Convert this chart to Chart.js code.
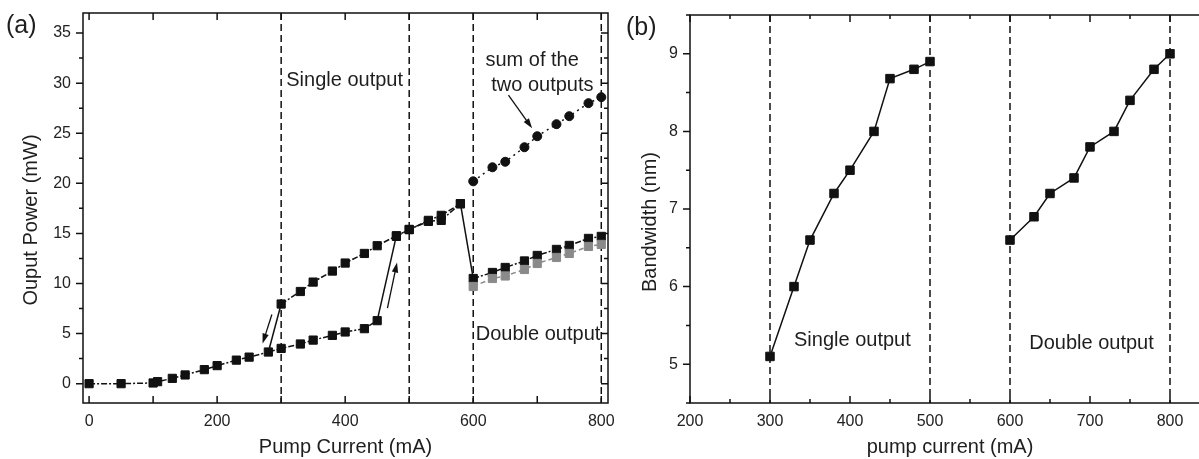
<!DOCTYPE html>
<html><head><meta charset="utf-8">
<script src="https://cdn.jsdelivr.net/npm/chart.js@4.4.1/dist/chart.umd.min.js"></script>
<style>
html,body{margin:0;padding:0;background:#fff;overflow:hidden;}
#wrap{position:relative;width:1199px;height:459px;overflow:hidden;background:#fff;}
#ca{position:absolute;left:0;top:0;width:615px;height:459px;}
#cb{position:absolute;left:620px;top:0;width:600px;height:459px;}
</style></head><body>
<div id="wrap"><canvas id="ca" width="615" height="459"></canvas><canvas id="cb" width="600" height="459"></canvas></div>
<script>
// ---------- Panel (a): output power vs pump current ----------
const lowerCurrent  = [0,50,100,107,130,150,180,200,230,250,280,300,330,350,380,400,430,450];
const lowerPower    = [0,0,0.07,0.2,0.53,0.87,1.4,1.8,2.35,2.65,3.16,3.52,3.96,4.35,4.82,5.16,5.49,6.29];
const upperCurrent  = [300,330,350,380,400,430,450,480,500,530,550,580];
const upperPower    = [7.95,9.2,10.14,11.24,12.04,13.0,13.77,14.77,15.37,16.3,16.8,17.96];
const riseCurrent   = [480,500,530,550,580];
const risePower     = [14.7,15.4,16.2,16.3,17.96];
const doubleCurrent = [600,630,650,680,700,730,750,780,800];
const output1Power  = [10.5,11.1,11.6,12.25,12.8,13.4,13.8,14.5,14.7];
const output2Power  = [9.7,10.5,10.75,11.4,12.0,12.6,13.0,13.7,13.9];
const sumPower      = [20.2,21.6,22.15,23.6,24.7,25.9,26.7,28.0,28.6];
const xTicksA = [0,200,400,600,800];
const yTicksA = [0,5,10,15,20,25,30,35];
const boundariesA = [300,500,600,800];

// ---------- Panel (b): bandwidth vs pump current ----------
const singleCurrent   = [300,330,350,380,400,430,450,480,500];
const singleBandwidth = [5.1,6.0,6.6,7.2,7.5,8.0,8.68,8.8,8.9];
const doubleBandwidth = [6.6,6.9,7.2,7.4,7.8,8.0,8.4,8.8,9.0];
const xTicksB = [200,300,400,500,600,700,800];
const yTicksB = [5,6,7,8,9];
const boundariesB = [300,500,600,800];

const FONT = '"Liberation Sans", Arial, Helvetica, sans-serif';
const INK = '#111';
const GRAY = '#8a8a8a';

function pts(xs, ys){ return xs.map((x,i)=>({x:x, y:ys[i]})); }
function series(xs, ys, o){
  return Object.assign({data:pts(xs,ys), showLine:true, fill:false, tension:0,
    borderColor:INK, backgroundColor:INK, borderWidth:1.5, pointRadius:0, pointHoverRadius:0,
    pointBorderWidth:1, pointBorderColor:INK, pointBackgroundColor:INK}, o);
}
function isMul(v, s){ const q=v/s; return Math.abs(q-Math.round(q))<1e-6; }

function arrow(ctx,x1,y1,x2,y2){
  const ang=Math.atan2(y2-y1,x2-x1), hl=10, hw=3.2;
  ctx.beginPath(); ctx.moveTo(x1,y1); ctx.lineTo(x2-Math.cos(ang)*hl*0.7, y2-Math.sin(ang)*hl*0.7); ctx.stroke();
  ctx.beginPath(); ctx.moveTo(x2,y2);
  ctx.lineTo(x2-hl*Math.cos(ang)+hw*Math.sin(ang), y2-hl*Math.sin(ang)-hw*Math.cos(ang));
  ctx.lineTo(x2-hl*Math.cos(ang)-hw*Math.sin(ang), y2-hl*Math.sin(ang)+hw*Math.cos(ang));
  ctx.closePath(); ctx.fill();
}

const decor = {
  id:'decor',
  beforeDatasetsDraw(chart, args, o){
    const ctx=chart.ctx, a=chart.chartArea, x=chart.scales.x;
    ctx.save(); ctx.strokeStyle=INK; ctx.lineWidth=1.5; ctx.setLineDash([7,4]);
    for(const v of o.vlines){ const px=x.getPixelForValue(v); ctx.beginPath(); ctx.moveTo(px,a.top); ctx.lineTo(px,a.bottom); ctx.stroke(); }
    ctx.restore();
  },
  afterDraw(chart, args, o){
    const ctx=chart.ctx, a=chart.chartArea, x=chart.scales.x, y=chart.scales.y;
    ctx.save();
    ctx.strokeStyle=INK; ctx.fillStyle=INK; ctx.lineWidth=1.5; ctx.setLineDash([]);
    ctx.strokeRect(a.left, a.top, a.right-a.left, a.bottom-a.top);
    const t=o.ticks;
    ctx.beginPath();
    for(let v=Math.ceil(x.min/t.xStep)*t.xStep; v<=x.max+1e-9; v+=t.xStep){
      const px=x.getPixelForValue(v); const L=isMul(v,t.xMajor)?t.major:t.minor;
      ctx.moveTo(px,a.bottom); ctx.lineTo(px,a.bottom-L);
      ctx.moveTo(px,a.top); ctx.lineTo(px,a.top+L);
    }
    for(let v=Math.ceil(y.min/t.yStep)*t.yStep; v<=y.max+1e-9; v+=t.yStep){
      const py=y.getPixelForValue(v); const L=isMul(v,t.yMajor)?t.major:t.minor;
      ctx.moveTo(a.left,py); ctx.lineTo(a.left-L,py);
      if(t.right){ ctx.moveTo(a.right,py); ctx.lineTo(a.right-L,py); }
    }
    ctx.stroke();
    ctx.lineWidth=1.3;
    for(const ar of (o.arrows||[])){
      arrow(ctx, x.getPixelForValue(ar.from[0]), y.getPixelForValue(ar.from[1]), x.getPixelForValue(ar.to[0]), y.getPixelForValue(ar.to[1]));
    }
    ctx.fillStyle='#1e1e1e'; ctx.textBaseline='middle';
    ctx.font='20px '+FONT;
    for(const tx of o.texts){
      ctx.textAlign=tx.align;
      ctx.fillText(tx.t, x.getPixelForValue(tx.x), y.getPixelForValue(tx.y));
    }
    ctx.textAlign='center';
    ctx.fillText(o.xTitle, (a.left+a.right)/2, o.xTitleY);
    ctx.save(); ctx.translate(o.yTitleX, o.yTitleY); ctx.rotate(-Math.PI/2); ctx.fillText(o.yTitle,0,0); ctx.restore();
    ctx.font='25px '+FONT; ctx.textAlign='left';
    ctx.fillText(o.label, o.labelX, o.labelY);
    ctx.restore();
  }
};

function scales(xmin,xmax,xt,ymin,ymax,yt,ywidth){
  const tickFont={size:16, family:FONT};
  return {
    x:{type:'linear', min:xmin, max:xmax, grid:{display:false, drawTicks:false}, border:{display:false},
       ticks:{font:tickFont, color:'#222', padding:9, maxRotation:0, autoSkip:false},
       afterBuildTicks:s=>{ s.ticks = xt.map(v=>({value:v})); },
       afterFit:s=>{ s.height=56; s.paddingLeft=0; s.paddingRight=0; }},
    y:{type:'linear', min:ymin, max:ymax, grid:{display:false, drawTicks:false}, border:{display:false},
       ticks:{font:tickFont, color:'#222', padding:12, autoSkip:false},
       afterBuildTicks:s=>{ s.ticks = yt.map(v=>({value:v})); },
       afterFit:s=>{ s.width=ywidth; s.paddingTop=0; s.paddingBottom=0; }}
  };
}

const sq = {pointStyle:'rect', pointRadius:5.8};
const iUp = upperCurrent.indexOf(480), iLow = lowerCurrent.indexOf(280);

new Chart(document.getElementById('ca'), {
  type:'scatter',
  data:{datasets:[
    series(lowerCurrent, lowerPower, Object.assign({borderDash:[6,2,2,2]}, sq)),
    series(upperCurrent, upperPower, Object.assign({borderDash:[6,2,2,2]}, sq)),
    series(riseCurrent, risePower, Object.assign({borderDash:[6,2,2,2]}, sq)),
    series([lowerCurrent[lowerCurrent.length-1], upperCurrent[iUp]], [lowerPower[lowerPower.length-1], upperPower[iUp]], {}),
    series([upperCurrent[0], lowerCurrent[iLow]], [upperPower[0], lowerPower[iLow]], {}),
    series([upperCurrent[upperCurrent.length-1], doubleCurrent[0]], [upperPower[upperPower.length-1], output1Power[0]], {}),
    series(doubleCurrent, output2Power, Object.assign({borderDash:[5,3], borderColor:GRAY, pointBorderColor:GRAY, pointBackgroundColor:GRAY}, sq)),
    series(doubleCurrent, output1Power, Object.assign({borderDash:[6,2,2,2]}, sq)),
    series(doubleCurrent, sumPower, {borderDash:[2,4], pointStyle:'circle', pointRadius:4.5})
  ]},
  options:{
    responsive:false, animation:false, events:[],
    layout:{padding:{left:0, right:7, top:13, bottom:0}},
    plugins:{legend:{display:false}, tooltip:{enabled:false},
      decor:{
        vlines:boundariesA,
        ticks:{xStep:100, xMajor:100, yStep:2.5, yMajor:5, major:7, minor:4, right:true},
        arrows:[{from:[285.5,6.9], to:[271,4.0]}, {from:[466,7.55], to:[481,12.1]}, {from:[655,28.8], to:[692,25.5]}],
        texts:[{t:'Single output', x:308, y:30.3, align:'left'},
               {t:'sum of the', x:692, y:32.3, align:'center'},
               {t:'two outputs', x:708, y:29.8, align:'center'},
               {t:'Double output', x:604, y:4.9, align:'left'}],
        xTitle:'Pump Current (mA)', xTitleY:447,
        yTitle:'Ouput Power (mW)', yTitleX:31, yTitleY:220,
        label:'(a)', labelX:6, labelY:26
      }},
    scales:scales(-9.5, 810.5, xTicksA, -1.93, 37, yTicksA, 83)
  },
  plugins:[decor]
});

new Chart(document.getElementById('cb'), {
  type:'scatter',
  data:{datasets:[
    series(singleCurrent, singleBandwidth, {pointStyle:'rect', pointRadius:6}),
    series(doubleCurrent, doubleBandwidth, {pointStyle:'rect', pointRadius:6})
  ]},
  options:{
    responsive:false, animation:false, events:[],
    layout:{padding:{left:0, right:10, top:15, bottom:0}},
    plugins:{legend:{display:false}, tooltip:{enabled:false},
      decor:{
        vlines:boundariesB,
        ticks:{xStep:50, xMajor:100, yStep:0.5, yMajor:1, major:7, minor:4, right:false},
        arrows:[],
        texts:[{t:'Single output', x:330, y:5.3, align:'left'},
               {t:'Double output', x:624, y:5.27, align:'left'}],
        xTitle:'pump current (mA)', xTitleY:447,
        yTitle:'Bandwidth (nm)', yTitleX:30, yTitleY:222,
        label:'(b)', labelX:6, labelY:28
      }},
    scales:scales(200, 850, xTicksB, 4.5, 9.5, yTicksB, 70)
  },
  plugins:[decor]
});
</script>
</body></html>
